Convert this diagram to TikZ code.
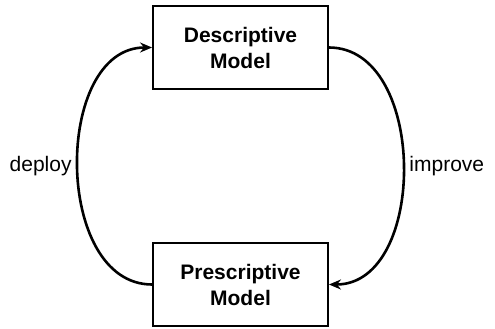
\documentclass[tikz,border=0pt]{standalone}
\usepackage{fontspec}
\setmainfont{Liberation Sans}
\usetikzlibrary{positioning,arrows.meta}

\begin{document}
\begin{tikzpicture}[
    x=1pt, y=1pt,
    node distance=237pt,
    model/.style={rectangle,draw,line width=1.9pt,minimum width=175pt,minimum height=83pt,align=center,font=\fontsize{21}{26}\selectfont\bfseries},
    cycle/.style={line width=2.6pt,-{Stealth[length=12pt,width=10pt]}},
    lbl/.style={font=\fontsize{21}{24}\selectfont,inner sep=5pt}
    ]
        \useasboundingbox (0,0) rectangle (495,-329);
        \node [model](desc) at (240.5,-47.5) {Descriptive\\Model};
        \node [model](presc) [below of=desc] {Prescriptive\\Model};
        \draw [cycle] (presc.west) to[out=180,in=180,looseness=1.07] node[lbl,left]{deploy} (desc.west);
        \draw [cycle] (desc.east) to[out=0,in=0,looseness=1.07] node[lbl,right]{improve} (presc.east);
\end{tikzpicture}
\end{document}
